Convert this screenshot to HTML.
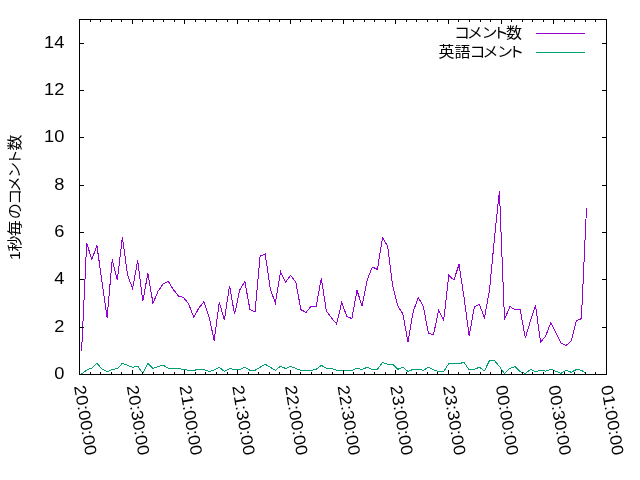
<!DOCTYPE html>
<html lang="ja">
<head>
<meta charset="utf-8">
<title>1秒毎のコメント数</title>
<style>
html,body{margin:0;padding:0;background:#fff;}
body{width:640px;height:480px;overflow:hidden;}
svg{display:block;}
text{fill:#000;}
.n{font-family:"Liberation Sans","Noto Sans CJK JP",sans-serif;font-size:16.6px;}
.j{font-family:"Liberation Sans","Noto Sans CJK JP",sans-serif;font-size:16px;}
</style>
</head>
<body>
<svg width="640" height="480" viewBox="0 0 640 480">
<rect width="640" height="480" fill="#fff"/>
<g shape-rendering="crispEdges">
<polyline points="81.6,350.6 86.7,243.0 91.8,259.6 96.9,245.6 102.0,281.6 107.1,317.6 112.2,259.6 117.3,280.4 122.4,237.0 127.5,275.0 132.6,288.6 137.7,260.4 142.8,301.4 147.9,273.0 153.0,303.4 158.1,291.0 163.2,284.0 168.3,281.4 173.4,289.6 178.5,296.0 183.6,297.6 188.7,304.0 193.8,317.4 198.9,308.0 204.0,301.6 209.1,317.0 214.2,340.6 219.3,302.4 224.4,320.0 229.5,285.6 234.6,314.4 239.7,290.0 244.8,281.4 249.9,309.4 255.0,312.0 260.1,256.0 265.2,254.0 270.3,289.0 275.4,303.0 280.5,271.6 285.6,282.0 290.7,275.4 295.8,282.0 300.9,309.6 306.0,312.4 311.1,306.4 316.2,306.4 321.3,278.4 326.4,311.0 331.5,318.0 336.6,324.0 341.7,302.6 346.8,316.4 351.9,318.6 357.0,290.4 362.1,306.0 367.2,280.0 372.3,267.0 377.4,269.4 382.5,237.6 387.6,246.0 392.7,286.0 397.8,306.0 402.9,314.0 408.0,342.4 413.1,312.0 418.2,297.4 423.3,306.4 428.4,333.4 433.5,334.6 438.6,310.6 443.7,320.0 448.8,275.4 453.9,280.0 459.0,264.4 464.1,298.0 469.2,336.0 474.3,307.0 479.4,304.4 484.5,318.0 489.5,290.0 494.5,238.0 499.4,191.0 504.5,319.4 510.0,306.4 515.1,310.0 520.2,309.4 525.3,338.0 530.4,321.0 535.5,305.6 540.6,342.0 545.7,336.0 550.8,322.6 555.9,333.0 561.0,343.0 566.1,345.4 571.2,341.0 576.3,321.0 581.4,318.6 586.5,208.0" fill="none" stroke="#9400d3" stroke-width="1"/>
<polyline points="81.6,374.0 86.7,370.0 91.8,368.0 96.9,363.3 102.0,369.0 107.1,371.7 112.2,369.5 117.3,368.5 122.4,363.3 127.5,365.3 132.6,367.3 137.7,366.2 142.8,373.3 147.9,363.2 153.0,368.5 158.1,366.5 163.2,365.2 168.3,368.3 173.4,368.5 178.5,368.5 183.6,369.5 188.7,370.3 193.8,370.3 198.9,369.4 204.0,369.5 209.1,371.5 214.2,370.0 219.3,367.2 224.4,371.5 229.5,368.5 234.6,369.5 239.7,369.5 244.8,367.2 249.9,370.3 255.0,370.3 260.1,367.2 265.2,364.3 270.3,367.3 275.4,370.3 280.5,366.3 285.6,368.5 290.7,366.3 295.8,368.5 300.9,370.3 306.0,370.3 311.1,370.3 316.2,369.4 321.3,365.3 326.4,368.3 331.5,368.3 336.6,370.3 341.7,370.3 346.8,370.3 351.9,370.3 357.0,368.3 362.1,369.5 367.2,367.3 372.3,369.5 377.4,369.5 382.5,362.3 387.6,364.3 392.7,364.3 397.8,369.3 402.9,367.3 408.0,371.5 413.1,369.3 418.2,369.3 423.3,370.3 428.4,367.3 433.5,369.8 438.6,371.5 443.7,371.5 448.8,363.5 453.9,363.5 459.0,363.5 464.1,362.5 469.2,370.0 474.3,369.3 479.4,367.3 484.5,370.8 489.5,360.5 494.5,360.5 499.4,366.5 504.5,373.5 510.0,368.3 515.1,366.5 520.2,371.8 525.3,373.3 530.4,369.5 535.5,371.5 540.6,370.3 545.7,371.2 550.8,369.3 555.9,371.3 561.0,373.3 566.1,370.3 571.2,372.3 576.3,369.5 581.4,370.3 586.5,373.5" fill="none" stroke="#009e73" stroke-width="1"/>
<path d="M536,33.5H585" stroke="#9400d3" stroke-width="1"/>
<path d="M536,52.5H585" stroke="#009e73" stroke-width="1"/>
<rect x="79.5" y="19.5" width="527.0" height="355.0" fill="none" stroke="#000" stroke-width="1"/>
<path d="M90.5,374.5v-2.5M90.5,19.5v2.5M100.5,374.5v-2.5M100.5,19.5v2.5M111.5,374.5v-2.5M111.5,19.5v2.5M121.5,374.5v-2.5M121.5,19.5v2.5M132.5,374.5v-4.5M132.5,19.5v4.5M142.5,374.5v-2.5M142.5,19.5v2.5M153.5,374.5v-2.5M153.5,19.5v2.5M163.5,374.5v-2.5M163.5,19.5v2.5M174.5,374.5v-2.5M174.5,19.5v2.5M184.5,374.5v-4.5M184.5,19.5v4.5M195.5,374.5v-2.5M195.5,19.5v2.5M205.5,374.5v-2.5M205.5,19.5v2.5M216.5,374.5v-2.5M216.5,19.5v2.5M227.5,374.5v-2.5M227.5,19.5v2.5M237.5,374.5v-4.5M237.5,19.5v4.5M248.5,374.5v-2.5M248.5,19.5v2.5M258.5,374.5v-2.5M258.5,19.5v2.5M269.5,374.5v-2.5M269.5,19.5v2.5M279.5,374.5v-2.5M279.5,19.5v2.5M290.5,374.5v-4.5M290.5,19.5v4.5M300.5,374.5v-2.5M300.5,19.5v2.5M311.5,374.5v-2.5M311.5,19.5v2.5M321.5,374.5v-2.5M321.5,19.5v2.5M332.5,374.5v-2.5M332.5,19.5v2.5M343.5,374.5v-4.5M343.5,19.5v4.5M353.5,374.5v-2.5M353.5,19.5v2.5M364.5,374.5v-2.5M364.5,19.5v2.5M374.5,374.5v-2.5M374.5,19.5v2.5M385.5,374.5v-2.5M385.5,19.5v2.5M395.5,374.5v-4.5M395.5,19.5v4.5M406.5,374.5v-2.5M406.5,19.5v2.5M416.5,374.5v-2.5M416.5,19.5v2.5M427.5,374.5v-2.5M427.5,19.5v2.5M437.5,374.5v-2.5M437.5,19.5v2.5M448.5,374.5v-4.5M448.5,19.5v4.5M458.5,374.5v-2.5M458.5,19.5v2.5M469.5,374.5v-2.5M469.5,19.5v2.5M480.5,374.5v-2.5M480.5,19.5v2.5M490.5,374.5v-2.5M490.5,19.5v2.5M501.5,374.5v-4.5M501.5,19.5v4.5M511.5,374.5v-2.5M511.5,19.5v2.5M522.5,374.5v-2.5M522.5,19.5v2.5M532.5,374.5v-2.5M532.5,19.5v2.5M543.5,374.5v-2.5M543.5,19.5v2.5M553.5,374.5v-4.5M553.5,19.5v4.5M564.5,374.5v-2.5M564.5,19.5v2.5M574.5,374.5v-2.5M574.5,19.5v2.5M585.5,374.5v-2.5M585.5,19.5v2.5M595.5,374.5v-2.5M595.5,19.5v2.5M79.5,327.5h4.5M606.5,327.5h-4.5M79.5,279.5h4.5M606.5,279.5h-4.5M79.5,232.5h4.5M606.5,232.5h-4.5M79.5,185.5h4.5M606.5,185.5h-4.5M79.5,137.5h4.5M606.5,137.5h-4.5M79.5,90.5h4.5M606.5,90.5h-4.5M79.5,43.5h4.5M606.5,43.5h-4.5" stroke="#000" stroke-width="1" fill="none"/>
</g>
<g>
<text class="n" transform="translate(64.4,379.0) scale(1.1,1)" x="0" y="0" text-anchor="end">0</text>
<text class="n" transform="translate(64.4,331.7) scale(1.1,1)" x="0" y="0" text-anchor="end">2</text>
<text class="n" transform="translate(64.4,284.3) scale(1.1,1)" x="0" y="0" text-anchor="end">4</text>
<text class="n" transform="translate(64.4,237.0) scale(1.1,1)" x="0" y="0" text-anchor="end">6</text>
<text class="n" transform="translate(64.4,189.7) scale(1.1,1)" x="0" y="0" text-anchor="end">8</text>
<text class="n" transform="translate(64.4,142.3) scale(1.1,1)" x="0" y="0" text-anchor="end">10</text>
<text class="n" transform="translate(64.4,95.0) scale(1.1,1)" x="0" y="0" text-anchor="end">12</text>
<text class="n" transform="translate(64.4,47.7) scale(1.1,1)" x="0" y="0" text-anchor="end">14</text>
<text class="n" transform="translate(80.0,385.3) rotate(80.5) scale(1.095,1)" x="0" y="6">20:00:00</text>
<text class="n" transform="translate(132.7,385.3) rotate(80.5) scale(1.095,1)" x="0" y="6">20:30:00</text>
<text class="n" transform="translate(185.4,385.3) rotate(80.5) scale(1.095,1)" x="0" y="6">21:00:00</text>
<text class="n" transform="translate(238.1,385.3) rotate(80.5) scale(1.095,1)" x="0" y="6">21:30:00</text>
<text class="n" transform="translate(290.8,385.3) rotate(80.5) scale(1.095,1)" x="0" y="6">22:00:00</text>
<text class="n" transform="translate(343.5,385.3) rotate(80.5) scale(1.095,1)" x="0" y="6">22:30:00</text>
<text class="n" transform="translate(396.2,385.3) rotate(80.5) scale(1.095,1)" x="0" y="6">23:00:00</text>
<text class="n" transform="translate(448.9,385.3) rotate(80.5) scale(1.095,1)" x="0" y="6">23:30:00</text>
<text class="n" transform="translate(501.6,385.3) rotate(80.5) scale(1.095,1)" x="0" y="6">00:00:00</text>
<text class="n" transform="translate(554.3,385.3) rotate(80.5) scale(1.095,1)" x="0" y="6">00:30:00</text>
<text class="n" transform="translate(607.0,385.3) rotate(80.5) scale(1.095,1)" x="0" y="6">01:00:00</text>
<text class="j" transform="translate(0,37.8) scale(1,0.9)" x="454 467 481.5 492.8 506" y="0">コメント数</text>
<text class="j" transform="translate(0,57.2) scale(1,0.9)" x="438.5 454.5 469.5 482.5 497 508.3" y="0">英語コメント</text>
<text class="j" transform="translate(20.4,258) rotate(-90) scale(1,0.9)" x="-1.9 6.5 21.7 38.8 53.2 65.7 79.9 92.7 107.4" y="0">1秒毎のコメント数</text>
</g>
</svg>
</body>
</html>
